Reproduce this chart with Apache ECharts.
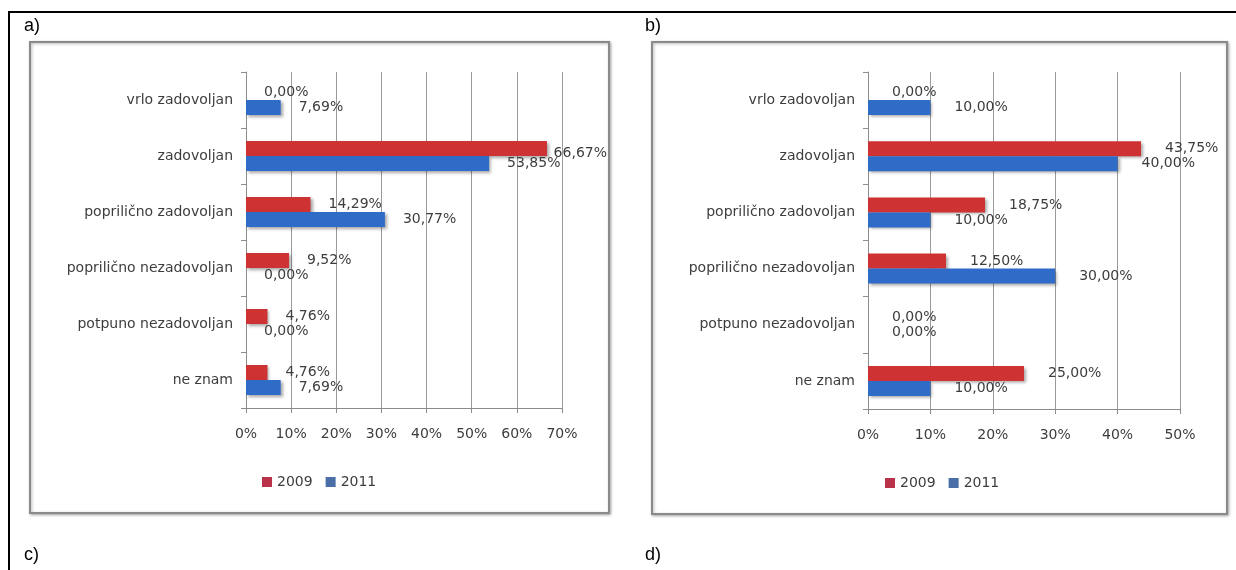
<!DOCTYPE html>
<html>
<head>
<meta charset="utf-8">
<script src="https://cdn.jsdelivr.net/npm/echarts@6/dist/echarts.min.js"></script>
<style>
html,body{margin:0;padding:0;background:#fff;}
#main{width:1236px;height:570px;}
</style>
</head>
<body>
<div id="main"></div>
<script>
// ---- data ----
const categories = ['vrlo zadovoljan', 'zadovoljan', 'poprilično zadovoljan', 'poprilično nezadovoljan', 'potpuno nezadovoljan', 'ne znam'];
const seriesNames = ['2009', '2011'];
const a2009 = [0.00, 66.67, 14.29, 9.52, 4.76, 4.76];
const a2011 = [7.69, 53.85, 30.77, 0.00, 0.00, 7.69];
const b2009 = [0.00, 43.75, 18.75, 12.50, 0.00, 25.00];
const b2011 = [10.00, 40.00, 10.00, 30.00, 0.00, 10.00];
const aTicks = [0, 10, 20, 30, 40, 50, 60, 70];
const bTicks = [0, 10, 20, 30, 40, 50];
const panelLabels = ['a)', 'b)', 'c)', 'd)'];

// ---- style ----
const RED = '#cf3232';
const BLUE = '#2f6cc8';
const FONT = 'DejaVu Sans';
const FS = 14;
const TXT = '#3d3d3d';

const chart = echarts.init(document.getElementById('main'), null, {renderer: 'canvas'});

function fmt(v) { return v.toFixed(2).replace('.', ',') + '%'; }

function yAxisFor(gi) {
  return {
    type: 'category', gridIndex: gi, inverse: true,
    data: categories,
    axisLine: {show: true, lineStyle: {color: '#8c8c8c', width: 1}},
    axisTick: {show: true, length: 5, alignWithLabel: false, lineStyle: {color: '#8c8c8c'}},
    axisLabel: {margin: 13, fontFamily: FONT, fontSize: FS, color: TXT},
    splitLine: {show: false}
  };
}
function xAxisFor(gi, ticks) {
  return {
    type: 'value', gridIndex: gi,
    min: ticks[0], max: ticks[ticks.length - 1], interval: ticks[1] - ticks[0],
    axisLine: {show: true, lineStyle: {color: '#8c8c8c', width: 1}},
    axisTick: {show: true, length: 5, lineStyle: {color: '#8c8c8c'}},
    axisLabel: {margin: 19, fontFamily: FONT, fontSize: FS, color: TXT, formatter: '{value}%'},
    splitLine: {show: true, lineStyle: {color: '#9a9a9a', width: 1}}
  };
}
function barSeries(name, data, gi, color, dy, dist, maxRight) {
  return {
    type: 'bar', name: name, xAxisIndex: gi, yAxisIndex: gi,
    data: data, barWidth: 15, barGap: '0%',
    itemStyle: {color: color, shadowBlur: 3, shadowColor: 'rgba(0,0,0,0.35)', shadowOffsetX: 2, shadowOffsetY: 2},
    label: {
      show: true, position: 'right', distance: dist, offset: [0, dy],
      fontFamily: FONT, fontSize: FS, color: TXT,
      formatter: p => fmt(p.value)
    },
    labelLayout: function (p) {
      const r = p.labelRect;
      if (r.x + r.width > maxRight) { return {x: maxRight - r.width, y: r.y + r.height / 2}; }
      return {};
    }
  };
}
function legendFor(left, top) {
  return {
    left: left, top: top, itemWidth: 10, itemHeight: 10, itemGap: 13, icon: 'rect',
    textStyle: {fontFamily: FONT, fontSize: FS, color: TXT},
    data: [{name: seriesNames[0], itemStyle: {color: '#b8334a'}}, {name: seriesNames[1], itemStyle: {color: '#4a6fa8'}}]
  };
}
const panelFont = '18px "Liberation Sans", Arial';

const option = {
  animation: false,
  backgroundColor: '#ffffff',
  graphic: [
    {type: 'line', z: -20, shape: {x1: 9, y1: 12, x2: 1236, y2: 12}, style: {stroke: '#000', lineWidth: 2}},
    {type: 'line', z: -20, shape: {x1: 9, y1: 11, x2: 9, y2: 570}, style: {stroke: '#000', lineWidth: 2}},
    {type: 'rect', z: -10, shape: {x: 30, y: 42, width: 579, height: 471},
      style: {fill: '#fff', stroke: '#8a8a8a', lineWidth: 2, shadowBlur: 3, shadowColor: 'rgba(0,0,0,0.3)', shadowOffsetX: 1, shadowOffsetY: 1}},
    {type: 'rect', z: -10, shape: {x: 652, y: 42, width: 575, height: 472},
      style: {fill: '#fff', stroke: '#8a8a8a', lineWidth: 2, shadowBlur: 3, shadowColor: 'rgba(0,0,0,0.3)', shadowOffsetX: 1, shadowOffsetY: 1}},
    {type: 'text', x: 24, y: 17, style: {text: panelLabels[0], font: panelFont, fill: '#000'}},
    {type: 'text', x: 645, y: 17, style: {text: panelLabels[1], font: panelFont, fill: '#000'}},
    {type: 'text', x: 24, y: 546, style: {text: panelLabels[2], font: panelFont, fill: '#000'}},
    {type: 'text', x: 645, y: 546, style: {text: panelLabels[3], font: panelFont, fill: '#000'}}
  ],
  grid: [
    {left: 246, top: 72, width: 316, height: 336, containLabel: false},
    {left: 868, top: 72, width: 312, height: 337, containLabel: false}
  ],
  xAxis: [xAxisFor(0, aTicks), xAxisFor(1, bTicks)],
  yAxis: [yAxisFor(0), yAxisFor(1)],
  legend: [legendFor(257, 470), legendFor(880, 471)],
  series: [
    barSeries(seriesNames[0], a2009, 0, RED, -2, 18, 607),
    barSeries(seriesNames[1], a2011, 0, BLUE, 4, 18, 607),
    barSeries(seriesNames[0], b2009, 1, RED, -2, 24, 1224),
    barSeries(seriesNames[1], b2011, 1, BLUE, 4, 24, 1224)
  ]
};
chart.setOption(option);
</script>
</body>
</html>
